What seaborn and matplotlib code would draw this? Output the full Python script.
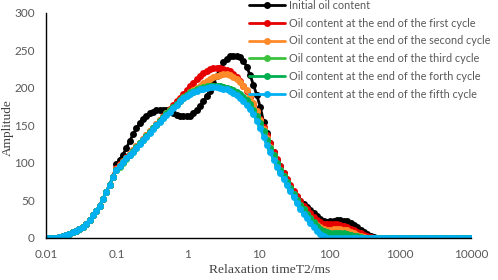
import numpy as np
import pandas as pd
import matplotlib
matplotlib.use("Agg")
import matplotlib.pyplot as plt
import seaborn as sns

#%% data (128 log-spaced relaxation times, 0.01-10000 ms)

t2 = np.logspace(-2, 4, 128)

# first 21 points are shared by all curves
head = [0, 0, 0.3, 0.6, 1, 2, 3.5, 5.5, 7.5, 9.5, 12, 15, 19, 24, 30, 36, 43, 52, 61, 71, 81]

initial = [99, 104, 111, 120, 129, 138, 146, 153, 159, 163,
           166, 168, 170, 171, 171, 170, 168, 166, 164, 163,
           162, 162, 163, 166, 170, 176, 182, 189, 196, 206,
           216, 226, 234, 239, 242, 243, 243, 241, 236, 228,
           217, 204, 190, 175, 155, 140, 127, 114, 104, 96,
           87, 77, 68, 60, 54, 49, 45, 41, 37, 33,
           29, 25, 22, 21, 22, 23, 24, 24, 23, 22,
           20, 17, 14, 11, 8, 5, 3, 1.5, 0.5]

first = [93, 98, 103, 108, 112, 117, 122, 127, 132, 137,
         142, 147, 152, 157, 162, 167, 172, 177, 182, 187,
         192, 197, 202, 207, 212, 216, 220, 223, 225, 226,
         226, 226, 225, 224, 222, 218, 214, 209, 203, 196,
         188, 179, 169, 158, 148, 137, 126, 115, 105, 96,
         87, 79, 71, 63, 56, 49, 43, 38, 33, 28,
         24, 21, 19, 18, 18, 18, 18, 17, 16, 14,
         12, 10, 8, 6, 4, 2.5, 1.2, 0.5, 0]

second = [92, 97, 102, 107, 112, 117, 122, 127, 132, 137,
          142, 147, 152, 157, 161, 166, 170, 175, 179, 183,
          187, 191, 194, 197, 200, 203, 206, 209, 212, 214,
          216, 217, 218, 218, 217, 215, 212, 208, 203, 197,
          189, 180, 169, 157, 145, 133, 121, 110, 100, 91,
          82, 74, 66, 58, 51, 44, 38, 32, 26, 21,
          17, 14, 12, 11, 11, 12, 12, 12, 11, 10,
          8, 6, 4, 2.5, 1.2, 0.5, 0, 0, 0]

third = [90, 95, 100, 105, 110, 115, 120, 126, 131, 136,
         141, 146, 151, 156, 161, 166, 170, 175, 179, 184,
         188, 191, 194, 196, 198, 200, 201, 202, 203, 203,
         203, 202, 201, 200, 198, 196, 193, 189, 185, 180,
         175, 168, 160, 150, 140, 129, 118, 108, 98, 89,
         81, 73, 65, 57, 49, 42, 35, 29, 23, 17,
         12, 8, 6, 5, 5, 5, 5, 4.5, 4, 3,
         2, 1, 0.5, 0, 0, 0, 0, 0, 0]

forth = [91, 96, 101, 106, 111, 116, 121, 126, 131, 136,
         141, 146, 151, 156, 160, 165, 169, 174, 178, 182,
         186, 190, 193, 195, 197, 199, 200, 201, 202, 202,
         202, 202, 201, 200, 199, 197, 195, 192, 188, 184,
         178, 171, 163, 153, 142, 131, 120, 110, 100, 91,
         83, 75, 67, 59, 51, 44, 38, 32, 26, 21,
         16, 12, 9, 8, 7, 7, 7, 7, 6, 5,
         4, 3, 2, 1, 0.5, 0, 0, 0, 0]

fifth = [91, 96, 101, 106, 110, 115, 120, 125, 130, 135,
         140, 145, 150, 155, 160, 164, 168, 173, 177, 182,
         186, 189, 192, 194, 196, 198, 199, 200, 201, 201,
         201, 200, 199, 198, 196, 193, 190, 186, 182, 177,
         172, 165, 156, 146, 135, 124, 114, 104, 95, 86,
         78, 70, 62, 54, 46, 38, 32, 26, 20, 14,
         9, 5, 2, 0.5, 0, 0, 0, 0, 0, 0,
         0, 0, 0, 0, 0, 0, 0, 0, 0]

labels = ['Initial oil content',
          'Oil content at the end of the first cycle',
          'Oil content at the end of the second cycle',
          'Oil content at the end of the third cycle',
          'Oil content at the end of the forth cycle',
          'Oil content at the end of the fifth cycle']
colors = ['#000000', '#e60000', '#ff8a2a', '#3cc23c', '#00b050', '#00b0f0']

#%% long-form table

curves = [initial, first, second, third, forth, fifth]
frames = []
for lab, body in zip(labels, curves):
    amp = head + body
    amp = amp + [0] * (len(t2) - len(amp))
    frames.append(pd.DataFrame({'T2': t2, 'amp': amp, 'series': lab}))
df = pd.concat(frames, ignore_index=True)

#%% plot

sns.set_style("white")
fig, ax = plt.subplots(figsize=(4.98, 2.80), dpi=100)
fig.subplots_adjust(left=0.0924, right=0.9458, bottom=0.15, top=0.9536)

sns.lineplot(data=df, x='T2', y='amp', hue='series', hue_order=labels,
             palette=colors, marker='o', markersize=5, markeredgewidth=0,
             linewidth=2, ax=ax, legend=True)

ax.set_xscale('log')
ax.set_xlim(0.01, 10000)
ax.set_ylim(0, 300)
ax.set_yticks(range(0, 301, 50))
ax.set_xticks([0.01, 0.1, 1, 10, 100, 1000, 10000])
ax.set_xticklabels(['0.01', '0.1', '1', '10', '100', '1000', '10000'])
ax.xaxis.set_minor_locator(matplotlib.ticker.NullLocator())
ax.tick_params(axis='y', direction='out', length=4, width=1, colors='black',
               labelcolor='#595959', labelsize=8.5, pad=4)
ax.tick_params(axis='x', direction='in', length=3, width=1, colors='black',
               labelcolor='#595959', labelsize=8.5, pad=8)
for lbl in ax.get_xticklabels() + ax.get_yticklabels():
    lbl.set_family('Lato')

sns.despine(ax=ax)
for s in ['left', 'bottom']:
    ax.spines[s].set_color('black')
    ax.spines[s].set_linewidth(1)

ax.set_xlabel('Relaxation timeT2/ms', family='Liberation Serif', fontsize=9.7,
              color='#404040')
ax.xaxis.set_label_coords((270 - 46) / 425, -0.115)
ax.set_ylabel('Amplitude', family='Liberation Serif', fontsize=9.5,
              color='#404040')
ax.yaxis.set_label_coords(-(46 - 8) / 425, (238 - 128) / 225, transform=None)
ax.yaxis.label.set_transform(fig.transFigure)
ax.yaxis.label.set_position((8 / 498, 1 - 128 / 280))
ax.yaxis.label.set_verticalalignment('center')

leg = ax.legend(loc='upper left', bbox_to_anchor=(249 / 498, 1.0), bbox_transform=fig.transFigure,
                frameon=False, handlelength=3.3, handletextpad=0.37, labelspacing=0.62,
                borderaxespad=0, borderpad=0.0, prop={'family': 'Lato', 'size': 7.8})
for t in leg.get_texts():
    t.set_color('#595959')

ax.grid(False)
fig.savefig('out.png', dpi=100)
